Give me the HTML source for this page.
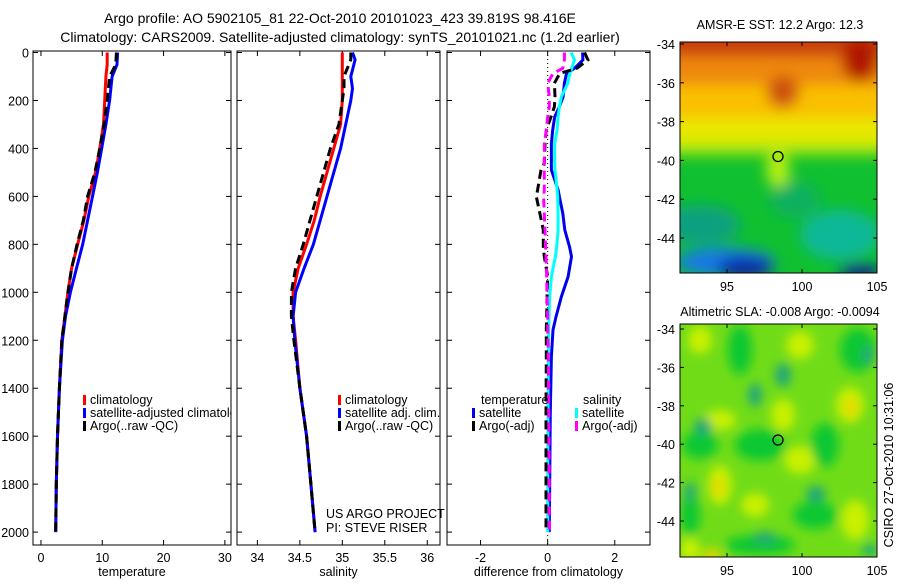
<!DOCTYPE html>
<html><head><meta charset="utf-8"><style>
body{margin:0;background:#fff;font-family:"Liberation Sans",sans-serif}
svg text{font-family:"Liberation Sans",sans-serif;fill:#000}
</style></head><body>
<svg id="c" width="900" height="580" viewBox="0 0 900 580" xmlns="http://www.w3.org/2000/svg">
<defs>
<filter id="bl" x="-20%" y="-20%" width="140%" height="140%"><feGaussianBlur stdDeviation="7"/></filter>
<filter id="bl2" x="-30%" y="-30%" width="160%" height="160%"><feGaussianBlur stdDeviation="5"/></filter>
<clipPath id="m1c"><rect x="680" y="42" width="197" height="231"/></clipPath>
<clipPath id="m2c"><rect x="680" y="324" width="197" height="233"/></clipPath>
<clipPath id="p1c"><rect x="33" y="40" width="198" height="520"/></clipPath>
</defs>
<text x="340" y="23" font-size="14" text-anchor="middle">Argo profile: AO 5902105_81 22-Oct-2010 20101023_423 39.819S 98.416E</text>
<text x="340" y="42" font-size="14" text-anchor="middle">Climatology: CARS2009. Satellite-adjusted climatology: synTS_20101021.nc (1.2d earlier)</text>
<g id="maps">
<g clip-path="url(#m1c)">
<rect x="680" y="42" width="197" height="231" fill="#10c030"/>
<g filter="url(#bl)">
<rect x="660" y="20" width="240" height="40" fill="#c83c08"/>
<rect x="660" y="56" width="240" height="32" fill="#ee8808"/>
<rect x="660" y="85" width="240" height="35" fill="#fac000"/>
<rect x="660" y="118" width="240" height="28" fill="#e8e800"/>
<rect x="660" y="143" width="240" height="12" fill="#a8e810"/>
<ellipse cx="778" cy="170" rx="12" ry="18" fill="#b8f010"/>
<ellipse cx="860" cy="60" rx="18" ry="22" fill="#b01800"/>
<ellipse cx="783" cy="92" rx="16" ry="16" fill="#cc5010"/>
<ellipse cx="700" cy="225" rx="40" ry="20" fill="#10a080"/>
<ellipse cx="840" cy="235" rx="40" ry="25" fill="#10b898"/>
<ellipse cx="795" cy="200" rx="25" ry="18" fill="#10b060"/>
<ellipse cx="725" cy="262" rx="50" ry="14" fill="#1878e8"/>
<ellipse cx="745" cy="268" rx="28" ry="10" fill="#0820a0"/>
<ellipse cx="860" cy="272" rx="22" ry="8" fill="#102090"/>
</g>
</g>
<rect x="680" y="42" width="197" height="231" fill="none" stroke="#000"/>
<circle cx="778" cy="156.5" r="5" fill="none" stroke="#000" stroke-width="1.3"/>
<text x="780" y="29" font-size="12.5" text-anchor="middle">AMSR-E SST: 12.2 Argo: 12.3</text>
<g clip-path="url(#m2c)">
<rect x="680" y="324" width="197" height="233" fill="#70dc18"/>
<g filter="url(#bl2)">
<g fill="#c8f000">
<ellipse cx="700" cy="340" rx="12" ry="14"/><ellipse cx="800" cy="345" rx="14" ry="14"/>
<ellipse cx="850" cy="405" rx="14" ry="18"/><ellipse cx="783" cy="415" rx="12" ry="16"/>
<ellipse cx="720" cy="420" rx="16" ry="10"/><ellipse cx="720" cy="485" rx="12" ry="20"/>
<ellipse cx="755" cy="505" rx="14" ry="12"/><ellipse cx="800" cy="460" rx="16" ry="14"/>
<ellipse cx="855" cy="520" rx="14" ry="20"/><ellipse cx="690" cy="550" rx="10" ry="12"/>
</g>
<g fill="#e8d800"><ellipse cx="718" cy="487" rx="6" ry="10"/><ellipse cx="851" cy="408" rx="6" ry="10"/><ellipse cx="712" cy="555" rx="10" ry="6"/></g>
<g fill="#10c830">
<ellipse cx="740" cy="350" rx="12" ry="25"/><ellipse cx="858" cy="350" rx="18" ry="22"/>
<ellipse cx="700" cy="445" rx="18" ry="14"/><ellipse cx="760" cy="445" rx="25" ry="16"/>
<ellipse cx="825" cy="445" rx="14" ry="22"/><ellipse cx="815" cy="515" rx="22" ry="14"/>
<ellipse cx="760" cy="545" rx="35" ry="10"/><ellipse cx="690" cy="515" rx="10" ry="20"/>
</g>
<g fill="#20a878">
<ellipse cx="783" cy="375" rx="8" ry="12"/><ellipse cx="755" cy="395" rx="7" ry="12"/>
<ellipse cx="703" cy="427" rx="9" ry="9"/><ellipse cx="816" cy="494" rx="10" ry="8"/>
<ellipse cx="690" cy="492" rx="6" ry="10"/><ellipse cx="765" cy="538" rx="12" ry="6"/>
<ellipse cx="868" cy="355" rx="6" ry="10"/><ellipse cx="870" cy="550" rx="8" ry="6"/>
</g>
</g>
</g>
<rect x="680" y="324" width="197" height="233" fill="none" stroke="#000"/>
<circle cx="778" cy="440" r="5" fill="none" stroke="#000" stroke-width="1.3"/>
<text x="780" y="316" font-size="12.5" text-anchor="middle">Altimetric SLA: -0.008 Argo: -0.0094</text>
<text transform="translate(893,465) rotate(-90)" font-size="12.5" text-anchor="middle">CSIRO 27-Oct-2010 10:31:06</text>
</g>
</svg>
<script>
// ---- data ----
const tDepth=[0,50,100,200,300,400,500,600,700,800,900,1000,1100,1200,1400,1600,1800,2000];
const tClim=[10.8,10.8,10.6,10.4,10.2,9.6,8.9,7.8,7.0,6.0,5.0,4.4,3.9,3.4,3.0,2.7,2.5,2.4];
const tSat=[12.5,12.4,11.6,11.2,10.6,9.9,9.2,8.4,7.6,6.8,5.8,4.8,4.0,3.5,3.0,2.7,2.5,2.4];
const tArgo=[12.3,12.2,11.2,10.8,10.3,9.6,8.8,7.6,6.9,5.9,5.0,4.4,3.9,3.4,3.0,2.7,2.5,2.4];
const sDepth=[0,30,100,150,200,300,400,500,600,700,800,900,1000,1100,1200,1400,1600,1800,2000];
const sClim=[35.0,35.0,35.0,35.0,35.0,34.98,34.9,34.82,34.74,34.67,34.58,34.48,34.42,34.42,34.45,34.5,34.58,34.63,34.68];
const sSat=[35.12,35.15,35.1,35.12,35.1,35.04,34.98,34.9,34.82,34.74,34.66,34.55,34.45,34.42,34.44,34.5,34.58,34.63,34.68];
const sArgo=[35.1,35.1,35.02,35.02,35.0,34.96,34.86,34.78,34.7,34.62,34.54,34.45,34.4,34.4,34.43,34.5,34.58,34.63,34.68];
const dDepth=[0,31,66,87,128,185,226,268,323,380,462,490,573,601,671,740,810,851,935,1018,1102,1157,1268,1500,1800,2000];
const dTsat=[1.04,1.05,0.8,0.56,0.5,0.46,0.35,0.21,0.15,0.11,0.11,0.11,0.31,0.35,0.45,0.51,0.65,0.71,0.61,0.41,0.25,0.16,0.11,0.08,0.06,0.05];
const dSsat=[0.7,0.8,0.72,0.66,0.6,0.41,0.35,0.31,0.28,0.21,0.21,0.22,0.28,0.3,0.31,0.31,0.27,0.23,0.11,0.06,0.04,0.03,0.02,0.01,0.0,0.0];
const dTargo=[1.1,1.2,0.87,0.36,0.2,0.22,0.2,0.1,-0.04,-0.08,-0.1,-0.2,-0.3,-0.34,-0.23,-0.13,-0.13,-0.1,0.0,-0.02,-0.03,-0.04,-0.04,-0.05,-0.05,-0.05];
const dSargo=[0.5,0.5,0.45,0.16,0.0,0.05,0.05,0.0,-0.04,-0.1,-0.1,-0.1,-0.1,-0.12,-0.1,-0.08,-0.06,-0.05,-0.03,-0.02,0.0,0.0,0.02,0.03,0.05,0.05];
const depthTicks=[0,200,400,600,800,1000,1200,1400,1600,1800,2000];
const tTicks=[0,10,20,30];
const sTicks=[34,34.5,35,35.5,36];
const dTicks=[-2,0,2];
const latTicks=[-34,-36,-38,-40,-42,-44];
const lonTicks=[95,100,105];
// ---- axes ----
const NS='http://www.w3.org/2000/svg', svg=document.getElementById('c');
const TOP=51,BOT=545;
const yD=d=>52.5+d*0.2398;
function mk(tag,at,parent){const e=document.createElementNS(NS,tag);for(const k in at)e.setAttribute(k,at[k]);(parent||svg).appendChild(e);return e;}
function txt(x,y,s,anchor,size,parent){const t=mk('text',{x:x,y:y,'font-size':size||12,'text-anchor':anchor||'start'},parent);t.textContent=s;return t;}
const panels=[
 {name:'temperature',x0:33,x1:231,v0:-1.3,v1:31,ticks:tTicks,label:'temperature'},
 {name:'salinity',x0:237,x1:440,v0:33.76,v1:36.15,ticks:sTicks,label:'salinity'},
 {name:'difference',x0:447,x1:650,v0:-3.0,v1:3.05,ticks:dTicks,label:'difference from climatology'}];
panels.forEach((p,i)=>{
 p.sx=v=>p.x0+(v-p.v0)/(p.v1-p.v0)*(p.x1-p.x0);
 const g=mk('g',{});
 
 
 p.g=g;
 const fr=mk('rect',{x:p.x0,y:TOP,width:p.x1-p.x0,height:BOT-TOP,fill:'none',stroke:'#000'},g);
 
 
 depthTicks.forEach(d=>{const y=yD(d);
  mk('line',{x1:p.x0,x2:p.x0+5,y1:y,y2:y,stroke:'#000'},g);mk('line',{x1:p.x1,x2:p.x1-5,y1:y,y2:y,stroke:'#000'},g);
  if(i==0){const t=txt(p.x0-4,y+5,String(d),'end',12.5,g);}});
 p.ticks.forEach(v=>{const x=p.sx(v);
  mk('line',{x1:x,x2:x,y1:BOT,y2:BOT-5,stroke:'#000'},g);mk('line',{x1:x,x2:x,y1:TOP,y2:TOP+5,stroke:'#000'},g);
  const t=txt(x,BOT+17,String(v),'middle',12.5,g);});
 const xl=txt((p.x0+p.x1)/2,BOT+31,p.label,'middle',12.5,g);
 
 
});
function line(p,vals,depths,color,dash,name){
 const pts=vals.map((v,k)=>p.sx(v).toFixed(1)+','+yD(depths[k]).toFixed(1)).join(' ');
 const l=mk('polyline',{points:pts,fill:'none',stroke:color,'stroke-width':3,'stroke-dasharray':dash||'none'},p.g);
 
 
}
const [P1,P2,P3]=panels;
mk('line',{x1:P3.sx(0),x2:P3.sx(0),y1:TOP,y2:BOT,stroke:'#000','stroke-dasharray':'1,3'},P3.g);
line(P1,tClim,tDepth,'#ff0000',null,'temperature-climatology-line');
line(P1,tSat,tDepth,'#0000ff',null,'temperature-satellite-line');
line(P1,tArgo,tDepth,'#000','9,5','temperature-argo-line');
line(P2,sClim,sDepth,'#ff0000',null,'salinity-climatology-line');
line(P2,sSat,sDepth,'#0000ff',null,'salinity-satellite-line');
line(P2,sArgo,sDepth,'#000','9,5','salinity-argo-line');
line(P3,dTsat,dDepth,'#0000ee',null,'temp-diff-satellite-line');
line(P3,dSsat,dDepth,'#00ffff',null,'sal-diff-satellite-line');
line(P3,dTargo,dDepth,'#000','9,5','temp-diff-argo-line');
line(P3,dSargo,dDepth,'#ff00ff','9,5','sal-diff-argo-line');
function leg(x,y,color,label,name,clip){const g=mk('g',{});
 
 
 if(clip)g.setAttribute('clip-path','url(#p1c)');
 mk('rect',{x:x,y:y-9,width:3,height:10,fill:color},g);txt(x+7,y,label,'start',12.5,g);}
leg(83,404,'#ff0000','climatology','legend-climatology',1);
leg(83,417,'#0000ff','satellite-adjusted climatology','legend-satellite',1);
leg(83,430,'#000','Argo(..raw -QC)','legend-argo',1);
leg(338,404,'#ff0000','climatology','legend2-climatology');
leg(338,417,'#0000ff','satellite adj. clim.','legend2-satellite');
leg(338,430,'#000','Argo(..raw -QC)','legend2-argo');
txt(481,404,'temperature','start',12.5);txt(583,404,'salinity','start',12.5);
leg(472,417,'#0000ee','satellite','legend3-temp-satellite');
leg(575,417,'#00ffff','satellite','legend3-sal-satellite');
leg(472,430,'#000','Argo(-adj)','legend3-temp-argo');
leg(575,430,'#ff00ff','Argo(-adj)','legend3-sal-argo');
txt(326,518,'US ARGO PROJECT','start',12.5);txt(326,532,'PI: STEVE RISER','start',12.5);
// map ticks
[[42,273,44,238],[324,557,329,521]].forEach(([t,b,y34,y44])=>{
 latTicks.forEach(v=>{const y=y34+(v+34)/(-10)*(y44-y34);
  mk('line',{x1:680,x2:684,y1:y,y2:y,stroke:'#000'});mk('line',{x1:877,x2:873,y1:y,y2:y,stroke:'#000'});
  const l=txt(675,y+5,String(v),'end',12.5);});
 lonTicks.forEach(v=>{const x=727+(v-95)*15;
  mk('line',{x1:x,x2:x,y1:b,y2:b-4,stroke:'#000'});mk('line',{x1:x,x2:x,y1:t,y2:t+4,stroke:'#000'});
  const l=txt(x,b+18,String(v),'middle',12.5);});
});
</script>
</body></html>
